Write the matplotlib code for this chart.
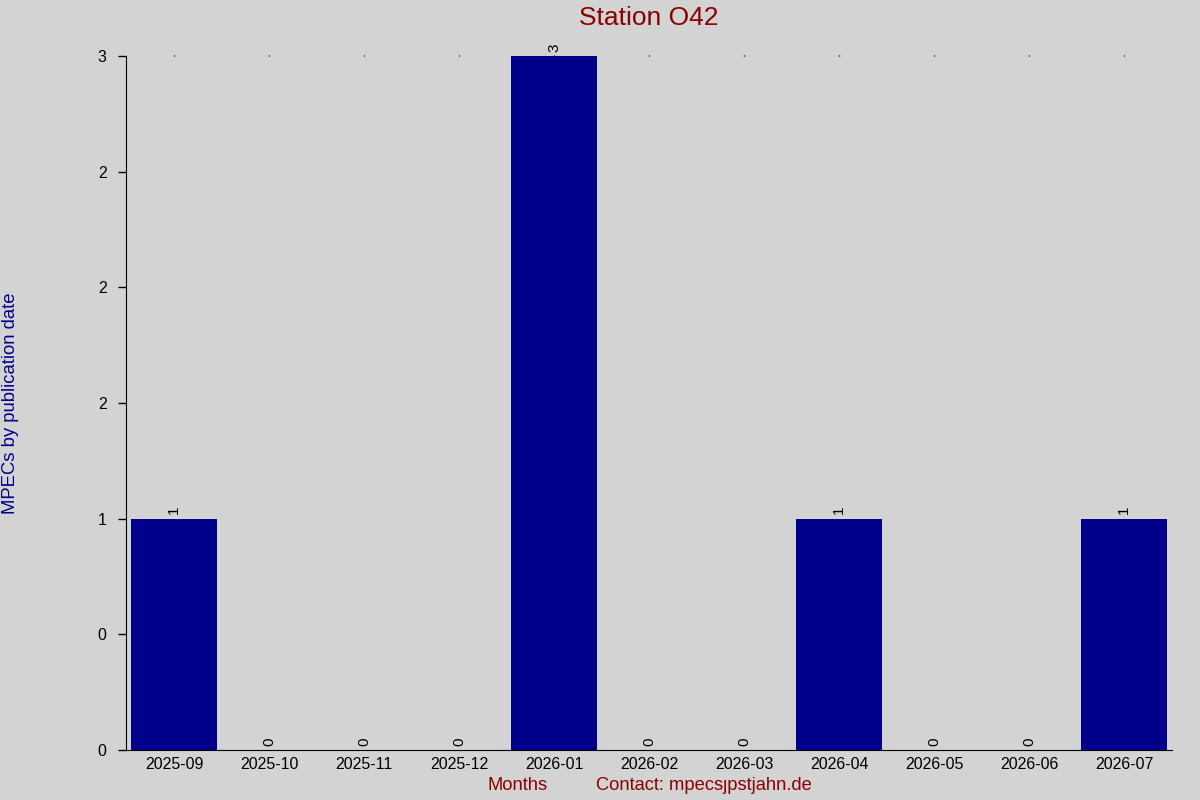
import matplotlib
matplotlib.use("Agg")
import matplotlib.pyplot as plt
import numpy as np

months = ["2025-09", "2025-10", "2025-11", "2025-12", "2026-01", "2026-02",
          "2026-03", "2026-04", "2026-05", "2026-06", "2026-07"]
counts = [1, 0, 0, 0, 3, 0, 0, 1, 0, 0, 1]
y_ticks = [0, 0.5, 1, 1.5, 2, 2.5, 3]

plt.rcParams['font.family'] = ['Liberation Sans', 'DejaVu Sans']

fig = plt.figure(figsize=(12, 8), dpi=100, facecolor='lightgray')
ax = fig.add_axes([0.105, 0.0625, 0.8717, 0.8675])
ax.set_facecolor('lightgray')

x = np.arange(len(months))
bars = ax.bar(x, counts, width=0.9, color='#00008B')

# value labels above each bar, rotated
for xi, c in zip(x, counts):
    ax.annotate(str(c), (xi, c), xytext=(0, 3), textcoords='offset points',
                rotation=90, ha='center', va='bottom', fontsize=11)

ax.set_xlim(-0.505, len(months) - 0.495)
ax.set_ylim(0, 3)
ax.set_xticks(x)
ax.set_xticklabels(months, fontsize=11.5)
ax.set_yticks(y_ticks)
ax.set_yticklabels(["%.0f" % v for v in y_ticks], fontsize=11.5)

ax.tick_params(axis='x', bottom=False, top=True, length=1, width=1, pad=4)
ax.tick_params(axis='y', length=6, width=1, pad=8)

ax.spines['top'].set_visible(False)
ax.spines['right'].set_visible(False)

fig.text(0.541, 0.977, "Station O42", color='#8B0000', fontsize=19,
         ha='center', va='center')
fig.text(0.009, 0.496, "MPECs by publication date", color='#00008B',
         fontsize=13.3, rotation=90, ha='center', va='center')
fig.text(0.431, 0.0175, "Months", color='#8B0000', fontsize=13.2,
         ha='center', va='center')
fig.text(0.587, 0.0175, "Contact: mpecs\u0237pstjahn.de", color='#8B0000',
         fontsize=13.2, ha='center', va='center')

fig.savefig("out.png", dpi=100, facecolor='lightgray')
